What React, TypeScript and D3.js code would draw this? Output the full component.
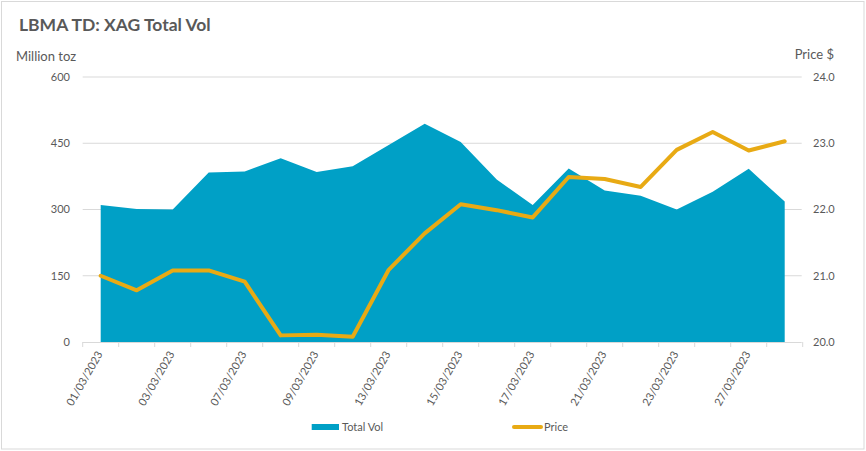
import React from "react";
import * as d3 from "d3";

const dates = [
  "01/03/2023", "02/03/2023", "03/03/2023", "06/03/2023", "07/03/2023",
  "08/03/2023", "09/03/2023", "10/03/2023", "13/03/2023", "14/03/2023",
  "15/03/2023", "16/03/2023", "17/03/2023", "20/03/2023", "21/03/2023",
  "22/03/2023", "23/03/2023", "24/03/2023", "27/03/2023", "28/03/2023",
];
const totalVol = [310, 301, 300, 384, 386, 416, 385, 398, 446, 494, 453, 368, 310, 393, 343, 331, 300, 340, 392, 318];
const price = [21.0, 20.78, 21.08, 21.08, 20.91, 20.1, 20.11, 20.08, 21.09, 21.64, 22.08, 21.99, 21.88, 22.49, 22.46, 22.34, 22.9, 23.17, 22.89, 23.03];
const leftTicks = [0, 150, 300, 450, 600];
const rightTicks = [20, 21, 22, 23, 24];

const W = 866;
const H = 451;
const FONT = "Lato, 'Open Sans', sans-serif";
const TXT = "#595959";
const GRID = "#d9d9d9";
const BLUE = "#00A0C6";
const GOLD = "#E8AA14";

export default function App() {
  const left = 82.7;
  const right = 802.7;
  const top = 77;
  const bottom = 342;
  const x = d3.scaleBand<string>().domain(dates).range([left, right]);
  const bw = x.bandwidth();
  const cx = (d: string) => (x(d) as number) + bw / 2;
  const yL = d3.scaleLinear().domain([0, 600]).range([bottom, top]);
  const yR = d3.scaleLinear().domain([20, 24]).range([bottom, top]);

  const areaPath = d3
    .area<number>()
    .x((_, i) => cx(dates[i]))
    .y0(yL(0))
    .y1((v) => yL(v))(totalVol) as string;
  const linePath = d3
    .line<number>()
    .x((_, i) => cx(dates[i]))
    .y((v) => yR(v))(price) as string;

  const boundaries = d3.range(dates.length + 1).map((i) => left + i * bw);

  return (
    <div style={{ position: "absolute", left: 0, top: 0 }}>
      <svg width={W} height={H} style={{ display: "block", fontFamily: FONT }}>
        <rect x={0} y={0} width={W} height={H} fill="#fff" />
        <rect x={1.5} y={1.5} width={862.5} height={447.5} fill="none" stroke={GRID} strokeWidth={1} />
        <text x={19} y={30.5} fontSize={17.5} fontWeight={700} fill={TXT}>
          LBMA TD: XAG Total Vol
        </text>
        <text x={16} y={61} fontSize={13} fill={TXT}>Million toz</text>
        <text x={834} y={59} fontSize={13} fill={TXT} textAnchor="end">Price $</text>

        {leftTicks.filter((t) => t > 0).map((t) => (
          <line key={"g" + t} x1={left} x2={right - 1} y1={yL(t)} y2={yL(t)} stroke={GRID} strokeWidth={1} />
        ))}

        <path d={areaPath} fill={BLUE} />
        <path d={linePath} fill="none" stroke={GOLD} strokeWidth={4} strokeLinejoin="round" strokeLinecap="round" />

        <line x1={left} x2={right - 1} y1={bottom + 0.5} y2={bottom + 0.5} stroke={GRID} strokeWidth={1} />
        {boundaries.map((b, i) => (
          <line key={"t" + i} x1={b} x2={b} y1={bottom} y2={bottom + 5} stroke={GRID} strokeWidth={1} />
        ))}

        {leftTicks.map((t) => (
          <text key={"l" + t} x={70} y={yL(t)} dy="0.35em" fontSize={11} fill={TXT} textAnchor="end">
            {t}
          </text>
        ))}
        {rightTicks.map((t) => (
          <text key={"r" + t} x={813} y={yR(t)} dy="0.35em" fontSize={11} fill={TXT} textAnchor="start">
            {t.toFixed(1)}
          </text>
        ))}

        {dates.map((d, i) =>
          i % 2 === 0 ? (
            <text
              key={"x" + d}
              transform={`translate(${cx(d) - 1},${bottom + 10}) rotate(-60)`}
              dy="0.35em"
              fontSize={11}
              fill={TXT}
              textAnchor="end"
            >
              {d}
            </text>
          ) : null
        )}

        <rect x={311.7} y={424} width={27.3} height={6} fill={BLUE} />
        <text x={342} y={427} dy="0.35em" fontSize={11} fill={TXT}>Total Vol</text>
        <line x1={514} x2={541} y1={427} y2={427} stroke={GOLD} strokeWidth={4} strokeLinecap="round" />
        <text x={544} y={427} dy="0.35em" fontSize={11} fill={TXT}>Price</text>
      </svg>
    </div>
  );
}
